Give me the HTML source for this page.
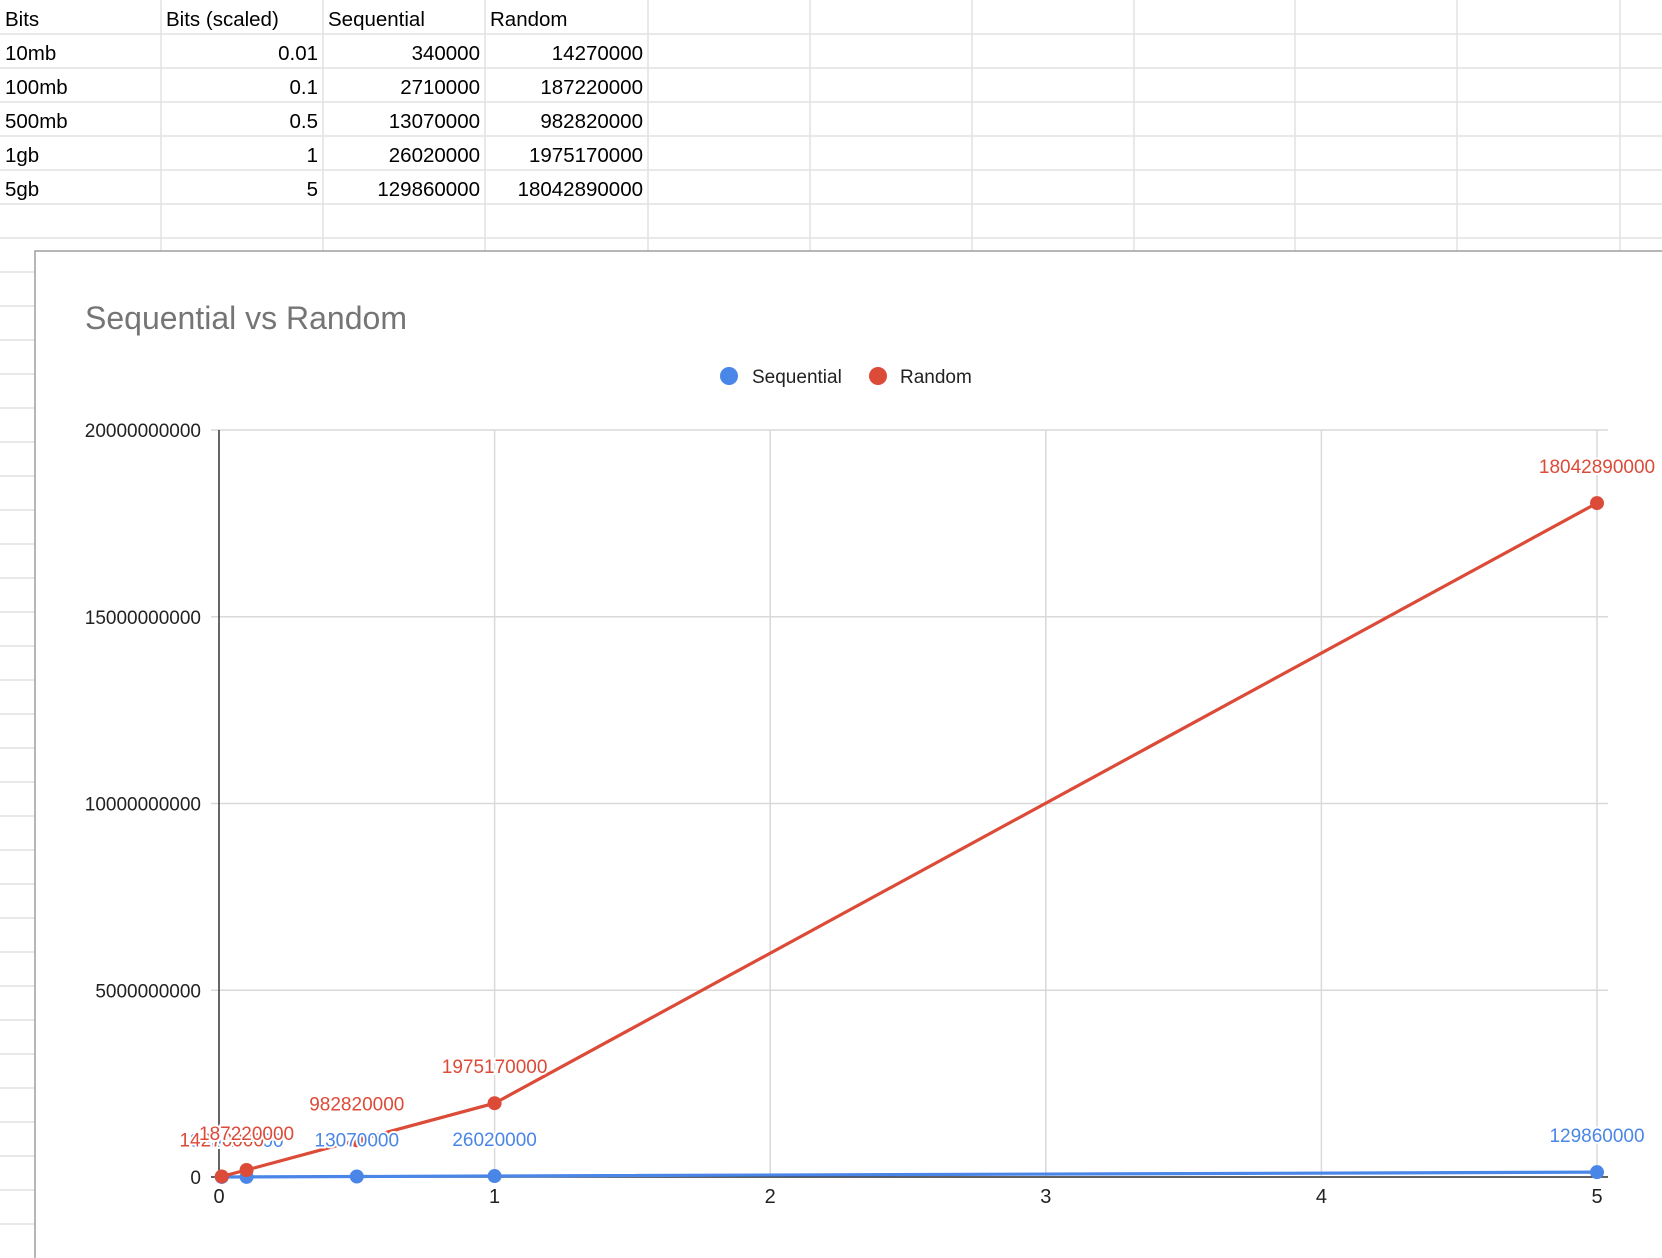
<!DOCTYPE html>
<html><head><meta charset="utf-8"><style>
html,body{margin:0;padding:0;background:#fff;width:1662px;height:1258px;overflow:hidden;font-family:"Liberation Sans",Arial,sans-serif}
svg{position:absolute;left:0;top:0}
</style></head><body>
<svg width="1662" height="1258" xmlns="http://www.w3.org/2000/svg">
<g id="grid"></g>
<g id="cells" font-size="20.5" fill="#000"></g>
<rect x="35" y="251" width="1640" height="1020" fill="#fff" stroke="#9e9e9e" stroke-width="1.5"/>
<text x="85" y="329" font-size="32" fill="#757575">Sequential vs Random</text>
<g font-size="19" fill="#222">
<circle cx="729" cy="376" r="9" fill="#4a86e8"/>
<text x="752" y="383">Sequential</text>
<circle cx="878" cy="376" r="9" fill="#dc4a38"/>
<text x="900" y="383">Random</text>
</g>
<g id="plot"></g>
</svg>
<script>
const NS='http://www.w3.org/2000/svg';
const labels=['10mb','100mb','500mb','1gb','5gb'];
const xVals=[0.01,0.1,0.5,1,5];
const seqVals=[340000,2710000,13070000,26020000,129860000];
const randVals=[14270000,187220000,982820000,1975170000,18042890000];
const yTicks=[0,5000000000,10000000000,15000000000,20000000000];
const xTicks=[0,1,2,3,4,5];
function mk(parent,tag,attrs,text){const e=document.createElementNS(NS,tag);for(const k in attrs)e.setAttribute(k,attrs[k]);if(text!==undefined)e.textContent=text;parent.appendChild(e);return e;}
const grid=document.getElementById('grid'),cells=document.getElementById('cells');
const colX=[0,161,323,485,648,810,972,1134,1295,1457,1620];
const rowH=34;
for(let i=1;i<colX.length;i++){const l=mk(grid,'line',{x1:colX[i],y1:0,x2:colX[i],y2:251,stroke:'#e2e2e2','stroke-width':1.5});

}
for(let r=1;r<=7;r++){const l=mk(grid,'line',{x1:0,y1:r*rowH,x2:1662,y2:r*rowH,stroke:'#e2e2e2','stroke-width':1.5});

}
for(let r=8;r<=36;r++){const l=mk(grid,'line',{x1:0,y1:r*rowH,x2:35,y2:r*rowH,stroke:'#e2e2e2','stroke-width':1.5});

}
const hdr=['Bits','Bits (scaled)','Sequential','Random'];
hdr.forEach((h,i)=>{const t=mk(cells,'text',{x:colX[i]+5,y:26},h);

});
labels.forEach((lb,r)=>{const y=26+(r+1)*rowH;
const row=[lb,String(xVals[r]),String(seqVals[r]),String(randVals[r])];
row.forEach((v,i)=>{const t=mk(cells,'text',i===0?{x:colX[i]+5,y:y}:{x:colX[i+1]-5,y:y,'text-anchor':'end'},v);

});});
const plot=document.getElementById('plot');
const X0=219,X1=1597,Y0=1177,Y1=430,XR=1608;
const xs=v=>X0+(X1-X0)*v/5;
const ys=v=>Y0-(Y0-Y1)*v/20000000000;
yTicks.forEach(t=>{const g=mk(plot,'line',{x1:X0-8,y1:ys(t),x2:XR,y2:ys(t),stroke:'#d9d9d9','stroke-width':1.5});


const l=mk(plot,'text',{x:201,y:ys(t)+7,'text-anchor':'end','font-size':19,fill:'#222'},String(t));

});
xTicks.forEach(t=>{if(t>0){const g=mk(plot,'line',{x1:xs(t),y1:Y1,x2:xs(t),y2:Y0,stroke:'#d9d9d9','stroke-width':1.5});

}
const l=mk(plot,'text',{x:xs(t),y:1203,'text-anchor':'middle','font-size':20,fill:'#222'},String(t));

});
const ax=mk(plot,'line',{x1:X0,y1:Y1,x2:X0,y2:Y0,stroke:'#333','stroke-width':1.5});


const bx=mk(plot,'line',{x1:X0-8,y1:Y0,x2:XR,y2:Y0,stroke:'#333','stroke-width':1.5});


function marks(vals,color,name){
const p=mk(plot,'polyline',{points:vals.map((v,i)=>xs(xVals[i])+','+ys(v)).join(' '),fill:'none',stroke:color,'stroke-width':3.2});


vals.forEach((v,i)=>{const c=mk(plot,'circle',{cx:xs(xVals[i]),cy:ys(v),r:7,fill:color});

});
}
function dlabels(vals,color,name,idx){
idx.forEach(i=>{const v=vals[i];const t=mk(plot,'text',{x:xs(xVals[i]),y:ys(v)-30,'text-anchor':'middle','font-size':19,fill:color,stroke:'#fff','stroke-width':4,'paint-order':'stroke'},String(v));

});
}
marks(seqVals,'#4a86e8','sequential');
marks(randVals,'#dc4a38','random');
dlabels(seqVals,'#4a86e8','sequential',[0,1]);
dlabels(randVals,'#dc4a38','random',[0]);
dlabels(randVals,'#dc4a38','random',[1,2,3,4]);
dlabels(seqVals,'#4a86e8','sequential',[2,3,4]);
</script>
</body></html>
